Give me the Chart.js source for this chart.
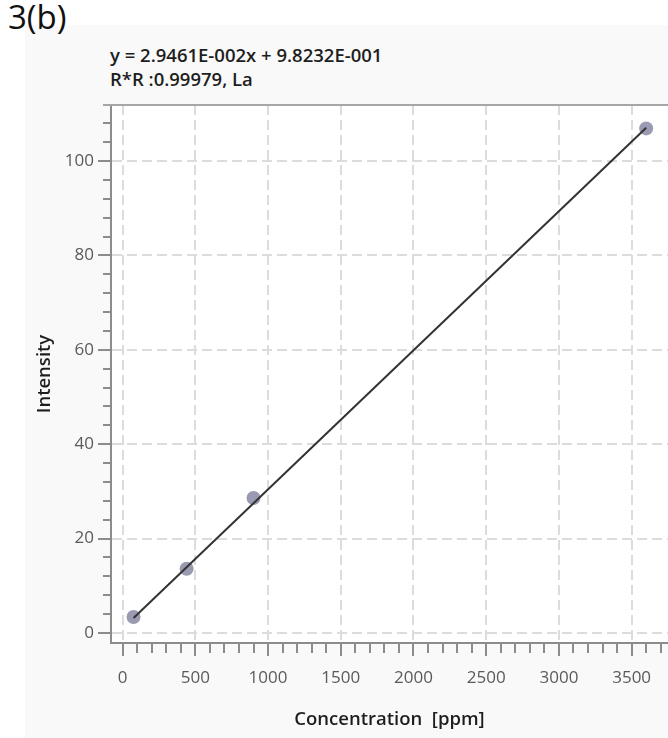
<!DOCTYPE html>
<html>
<head>
<meta charset="utf-8">
<script src="https://cdn.jsdelivr.net/npm/chart.js@4"></script>
<style>
  html, body { margin: 0; padding: 0; background: #fff; }
  body { width: 668px; height: 738px; position: relative; overflow: hidden; font-family: "Open Sans", sans-serif; }
  #panel { position: absolute; left: 25px; top: 25px; right: 0; bottom: 0; background: #f9f9f9; }
  #label { position: absolute; left: 8px; top: -6px; font-size: 33px; color: #111; line-height: 1.4; }
  .eq { position: absolute; left: 110px; font-size: 18.5px; line-height: 24px; font-weight: 600; color: #1e1e1e; white-space: pre; }
  #eq1 { top: 43px; }
  #eq2 { top: 67px; }
  #chart { position: absolute; left: 0; top: 0; }
</style>
</head>
<body>
<div id="panel"></div>
<div id="label">3(b)</div>
<div class="eq" id="eq1">y = 2.9461E-002x + 9.8232E-001</div>
<div class="eq" id="eq2">R*R :0.99979, La</div>
<canvas id="chart" width="668" height="738"></canvas>
<script>
// measured standards
const concentration = [75, 440, 900, 3600];
const intensity = [3.4, 13.6, 28.6, 106.9];

// calibration line end points (y = 2.9461E-002x + 9.8232E-001)
const fitConcentration = [75, 3600];
const fitIntensity = [3.19, 107.04];

// tick labels
const xTickValues = [0, 500, 1000, 1500, 2000, 2500, 3000, 3500];
const yTickValues = [0, 20, 40, 60, 80, 100];

const axisColor = '#8c8c8c';
const tickFont = { family: 'Open Sans', size: 17 };
const titleFont = { family: 'Open Sans', size: 18.5, weight: '600' };

// white plot background + top border line + tick marks
const plotFrame = {
    id: 'plotFrame',
    beforeDraw(chart) {
        const { ctx, chartArea: a } = chart;
        ctx.save();
        ctx.fillStyle = '#fff';
        ctx.fillRect(a.left, a.top, a.right - a.left, a.bottom - a.top);
        ctx.restore();
    },
    afterDraw(chart) {
        const { ctx, chartArea: a } = chart;
        const xs = chart.scales.x, ys = chart.scales.y;
        ctx.save();
        ctx.strokeStyle = '#a6a6a6';
        ctx.lineWidth = 2;
        ctx.beginPath();
        ctx.moveTo(a.left - 8, a.top);
        ctx.lineTo(a.right, a.top);
        ctx.stroke();

        ctx.strokeStyle = axisColor;
        ctx.lineWidth = 2;
        ctx.beginPath();
        for (let v = Math.ceil(ys.min / 4) * 4; v <= ys.max; v += 4) {
            const py = Math.round(ys.getPixelForValue(v));
            const len = v % 20 === 0 ? 13 : 8;
            ctx.moveTo(a.left - len, py);
            ctx.lineTo(a.left, py);
        }
        for (let v = Math.ceil(xs.min / 100) * 100; v <= xs.max; v += 100) {
            const px = Math.round(xs.getPixelForValue(v));
            const len = v % 500 === 0 ? 13 : 10;
            ctx.moveTo(px, a.bottom);
            ctx.lineTo(px, a.bottom + len);
        }
        ctx.stroke();
        ctx.restore();
    }
};

new Chart(document.getElementById('chart').getContext('2d'), {
    type: 'scatter',
    data: {
        datasets: [
            {
                label: 'fit',
                data: fitConcentration.map((x, i) => ({ x, y: fitIntensity[i] })),
                showLine: true,
                borderColor: '#333',
                borderWidth: 2,
                pointRadius: 0
            },
            {
                label: 'La',
                data: concentration.map((x, i) => ({ x, y: intensity[i] })),
                backgroundColor: '#9a9ab2',
                borderColor: '#9a9ab2',
                borderWidth: 0,
                pointRadius: 7
            }
        ]
    },
    options: {
        responsive: false,
        animation: false,
        layout: { autoPadding: false, padding: { top: 105, left: 0, right: 0, bottom: 0 } },
        plugins: { legend: { display: false }, tooltip: { enabled: false } },
        scales: {
            x: {
                type: 'linear',
                min: -80,
                max: 3750,
                afterBuildTicks: s => { s.ticks = xTickValues.map(value => ({ value })); },
                afterFit: s => { s.height = 95; },
                // invisible tick marks just push the labels down; real marks come from plotFrame
                grid: { color: '#dcdcdc', lineWidth: 2, drawTicks: true, tickLength: 22, tickColor: 'rgba(0,0,0,0)' },
                border: { color: axisColor, width: 2, dash: [10, 5] },
                ticks: { font: tickFont, color: '#5a5a5a', padding: 3, maxRotation: 0, callback: v => String(v) },
                title: { display: true, text: 'Concentration  [ppm]', font: titleFont, color: '#1e1e1e', padding: { bottom: 7 } }
            },
            y: {
                type: 'linear',
                min: -2.12,
                max: 111.86,
                afterBuildTicks: s => { s.ticks = yTickValues.map(value => ({ value })); },
                afterFit: s => { s.width = 111; },
                grid: { color: '#dcdcdc', lineWidth: 2, drawTicks: true, tickLength: 14, tickColor: 'rgba(0,0,0,0)' },
                border: { color: axisColor, width: 2, dash: [10, 5] },
                ticks: { font: tickFont, color: '#5a5a5a', padding: 3, callback: v => String(v) },
                title: { display: true, text: 'Intensity', font: titleFont, color: '#1e1e1e', padding: { top: 34 } }
            }
        }
    },
    plugins: [plotFrame]
});
</script>
</body>
</html>
